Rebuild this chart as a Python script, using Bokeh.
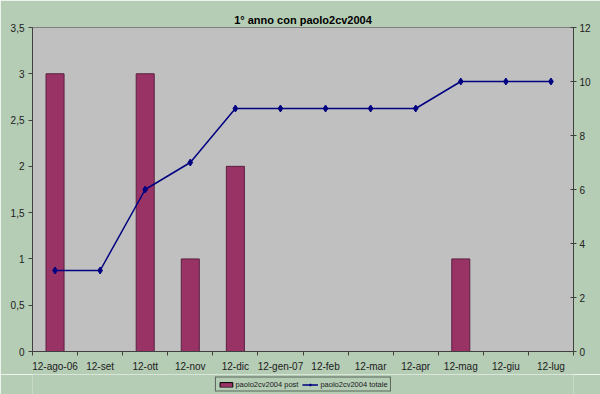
from bokeh.plotting import figure
from bokeh.layouts import column
from bokeh.models import (Range1d, LinearAxis, FixedTicker, CustomJSTickFormatter,
                          Legend, LegendItem, ColumnDataSource)
from bokeh.embed import file_html
from bokeh.resources import INLINE

months = ["12-ago-06", "12-set", "12-ott", "12-nov", "12-dic", "12-gen-07",
          "12-feb", "12-mar", "12-apr", "12-mag", "12-giu", "12-lug"]
post = [3, 0, 3, 1, 2, 0, 0, 0, 0, 1, 0, 0]
totale = [3, 3, 6, 7, 9, 9, 9, 9, 9, 10, 10, 10]
left_ticks = [0, 0.5, 1, 1.5, 2, 2.5, 3, 3.5]
right_ticks = [0, 2, 4, 6, 8, 10, 12]

BG = "#B5CCB5"
FONT = "Liberation Sans"
BAR_FILL, BAR_LINE, LINE_COL = "#993366", "#5a2040", "#000080"

xs = [i + 0.5 for i in range(len(months))]
src = ColumnDataSource(dict(x=xs, post=post, totale=totale))

p = figure(width=600, height=374, output_backend="svg", toolbar_location=None,
           x_range=Range1d(0, 12), y_range=Range1d(0, 3.5),
           title="1° anno con paolo2cv2004",
           min_border_left=32, min_border_right=27, min_border_top=27, min_border_bottom=22)
p.extra_y_ranges = {"right": Range1d(0, 12)}
p.border_fill_color = BG
p.background_fill_color = "#C0C0C0"
p.outline_line_color = "#808080"
p.xgrid.visible = False
p.ygrid.visible = False

p.title.align = "center"
p.title.text_font = FONT
p.title.text_font_size = "11px"
p.title.text_font_style = "bold"
p.title.text_color = "#000000"
p.title.offset = 0
p.title.standoff = 3

# x axis
xa = p.xaxis[0]
xa.ticker = FixedTicker(ticks=xs, minor_ticks=list(range(13)))
xa.major_label_overrides = {x: m for x, m in zip(xs, months)}
xa.major_tick_out = 0
xa.major_tick_in = 0
xa.minor_tick_out = 4
xa.minor_tick_in = 0
xa.minor_tick_line_color = "#404040"
xa.axis_line_color = "#404040"
xa.major_label_text_font = FONT
xa.major_label_text_font_size = "10px"
xa.major_label_text_color = "#202020"
xa.major_label_standoff = 5

# left axis
ya = p.yaxis[0]
ya.ticker = FixedTicker(ticks=left_ticks)
ya.formatter = CustomJSTickFormatter(code="return tick.toString().replace('.', ',');")
ya.major_tick_out = 4
ya.major_tick_in = 0
ya.minor_tick_out = 0
ya.minor_tick_in = 0
ya.axis_line_color = "#404040"
ya.major_tick_line_color = "#404040"
ya.major_label_text_font = FONT
ya.major_label_text_font_size = "10px"
ya.major_label_text_color = "#202020"
ya.major_label_standoff = 4

ra = LinearAxis(y_range_name="right", ticker=FixedTicker(ticks=right_ticks))
ra.major_tick_out = 3
ra.major_tick_in = 3
ra.minor_tick_out = 0
ra.minor_tick_in = 0
ra.axis_line_color = "#404040"
ra.major_tick_line_color = "#404040"
ra.major_label_text_font = FONT
ra.major_label_text_font_size = "10px"
ra.major_label_text_color = "#202020"
ra.major_label_standoff = 3
p.add_layout(ra, "right")

p.vbar(x="x", top="post", width=0.4, source=src,
       fill_color=BAR_FILL, line_color=BAR_LINE, line_width=1)
p.line(x="x", y="totale", source=src, y_range_name="right",
       line_color=LINE_COL, line_width=1.5)
p.scatter(x="x", y="totale", source=src, y_range_name="right",
          marker="diamond", size=7, fill_color=LINE_COL, line_color=LINE_COL)

# legend strip below the chart (legend glyph renderers sit outside the visible range)
lg = figure(width=600, height=20, output_backend="svg", toolbar_location=None,
            x_range=Range1d(0, 1), y_range=Range1d(0, 1),
            x_axis_type=None, y_axis_type=None,
            min_border_left=30, min_border_right=27, min_border_top=0, min_border_bottom=0)
lg.border_fill_color = BG
lg.background_fill_color = BG
lg.outline_line_color = None
lg.xgrid.visible = False
lg.ygrid.visible = False
offscreen = ColumnDataSource(dict(x=[-10], y=[-10]))
rb = lg.vbar(x="x", top="y", width=0.4, source=offscreen,
             fill_color=BAR_FILL, line_color="#000000", line_width=1)
rl = lg.line(x="x", y="y", source=offscreen, line_color=LINE_COL, line_width=1.5)
rp = lg.scatter(x="x", y="y", source=offscreen, marker="diamond", size=5,
                fill_color=LINE_COL, line_color=LINE_COL)

legend = Legend(items=[LegendItem(label="paolo2cv2004 post", renderers=[rb], index=0),
                       LegendItem(label="paolo2cv2004 totale", renderers=[rl, rp], index=0)],
                orientation="horizontal", location="center")
legend.label_text_font = FONT
legend.label_text_font_size = "7.5px"
legend.label_text_color = "#202020"
legend.label_height = 8
legend.glyph_height = 6
legend.glyph_width = 16
legend.label_standoff = 2
legend.spacing = 4
legend.padding = 2
legend.margin = 0
legend.border_line_color = "#000000"
legend.background_fill_color = BG
legend.background_fill_alpha = 1
lg.add_layout(legend)

layout = column(p, lg, spacing=0)
open("out.html", "w").write(file_html(layout, INLINE))
